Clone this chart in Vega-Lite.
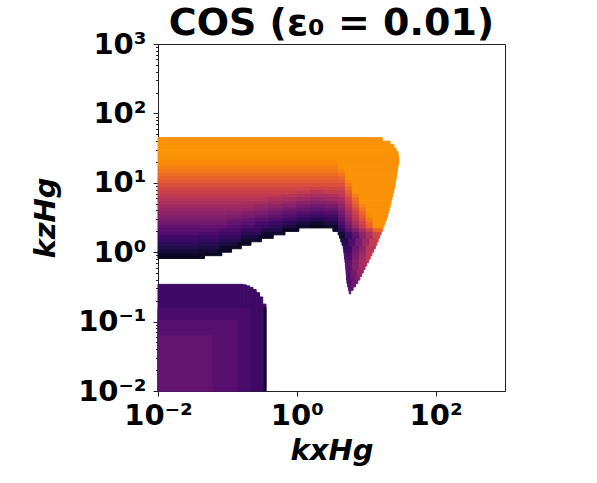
{
"$schema":"https://vega.github.io/schema/vega-lite/v6.json",
"autosize":"none",
"width":347,"height":347,
"padding":{"left":158,"top":44,"right":92,"bottom":92},
"background":"white",
"config":{"view":{"stroke":"#222","strokeWidth":1},"font":"DejaVu Sans"},
"title":{"text":"COS (ε₀ = 0.01)","font":"DejaVu Sans","fontSize":38,"fontWeight":"bold","color":"black","anchor":"middle","offset":4,"dy":17},
"data":{"values":[
{"kx0":0.01,"kx1":0.1687,"kz0":0.01,"kz1":0.344,"rate":0.19},
{"kx0":0.1687,"kx1":0.1879,"kz0":0.01,"kz1":0.3381,"rate":0.19},
{"kx0":0.1879,"kx1":0.2094,"kz0":0.01,"kz1":0.3273,"rate":0.19},
{"kx0":0.2094,"kx1":0.2333,"kz0":0.01,"kz1":0.3112,"rate":0.19},
{"kx0":0.2333,"kx1":0.26,"kz0":0.01,"kz1":0.2891,"rate":0.19},
{"kx0":0.26,"kx1":0.2897,"kz0":0.01,"kz1":0.2612,"rate":0.19},
{"kx0":0.2897,"kx1":0.3228,"kz0":0.01,"kz1":0.2265,"rate":0.19},
{"kx0":0.3228,"kx1":0.3597,"kz0":0.01,"kz1":0.1786,"rate":0.19},
{"kx0":0.3388,"kx1":0.3597,"kz0":0.01,"kz1":0.16,"rate":0.07},
{"kx0":0.01,"kx1":0.2138,"kz0":0.01,"kz1":0.1549,"rate":0.22},
{"kx0":0.01,"kx1":0.138,"kz0":0.01,"kz1":0.1047,"rate":0.25},
{"kx0":0.01,"kx1":0.0603,"kz0":0.01,"kz1":0.0631,"rate":0.28},
{"kx0":5.689,"kx1":5.984,"kz0":0.251,"kz1":0.282,"rate":0.26},
{"kx0":5.546,"kx1":6.471,"kz0":0.282,"kz1":0.316,"rate":0.27},
{"kx0":5.408,"kx1":6.166,"kz0":0.316,"kz1":0.355,"rate":0.25},
{"kx0":6.166,"kx1":7.015,"kz0":0.316,"kz1":0.355,"rate":0.30},
{"kx0":5.272,"kx1":6.31,"kz0":0.355,"kz1":0.398,"rate":0.25},
{"kx0":6.31,"kx1":7.586,"kz0":0.355,"kz1":0.398,"rate":0.32},
{"kx0":5.212,"kx1":6.026,"kz0":0.398,"kz1":0.447,"rate":0.24},
{"kx0":6.026,"kx1":7.079,"kz0":0.398,"kz1":0.447,"rate":0.30},
{"kx0":7.079,"kx1":8.091,"kz0":0.398,"kz1":0.447,"rate":0.36},
{"kx0":5.164,"kx1":6.026,"kz0":0.447,"kz1":0.501,"rate":0.25},
{"kx0":6.026,"kx1":7.244,"kz0":0.447,"kz1":0.501,"rate":0.32},
{"kx0":7.244,"kx1":8.57,"kz0":0.447,"kz1":0.501,"rate":0.39},
{"kx0":5.117,"kx1":6.166,"kz0":0.501,"kz1":0.562,"rate":0.26},
{"kx0":6.166,"kx1":7.413,"kz0":0.501,"kz1":0.562,"rate":0.335},
{"kx0":7.413,"kx1":9.078,"kz0":0.501,"kz1":0.562,"rate":0.41},
{"kx0":5.07,"kx1":6.31,"kz0":0.562,"kz1":0.631,"rate":0.26},
{"kx0":6.31,"kx1":7.943,"kz0":0.562,"kz1":0.631,"rate":0.36},
{"kx0":7.943,"kx1":9.616,"kz0":0.562,"kz1":0.631,"rate":0.44},
{"kx0":5.012,"kx1":6.31,"kz0":0.631,"kz1":0.708,"rate":0.27},
{"kx0":6.31,"kx1":7.943,"kz0":0.631,"kz1":0.708,"rate":0.36},
{"kx0":7.943,"kx1":10.19,"kz0":0.631,"kz1":0.708,"rate":0.46},
{"kx0":4.943,"kx1":6.31,"kz0":0.708,"kz1":0.794,"rate":0.26},
{"kx0":6.31,"kx1":7.943,"kz0":0.708,"kz1":0.794,"rate":0.36},
{"kx0":7.943,"kx1":10,"kz0":0.708,"kz1":0.794,"rate":0.45},
{"kx0":10,"kx1":10.79,"kz0":0.708,"kz1":0.794,"rate":0.51},
{"kx0":4.875,"kx1":6.31,"kz0":0.794,"kz1":0.891,"rate":0.24},
{"kx0":6.31,"kx1":7.943,"kz0":0.794,"kz1":0.891,"rate":0.34},
{"kx0":7.943,"kx1":10,"kz0":0.794,"kz1":0.891,"rate":0.44},
{"kx0":10,"kx1":11.43,"kz0":0.794,"kz1":0.891,"rate":0.52},
{"kx0":0.01,"kx1":0.0468,"kz0":0.813,"kz1":0.891,"rate":0.05},
{"kx0":0.01,"kx1":0.0501,"kz0":0.891,"kz1":1,"rate":0.07},
{"kx0":0.0501,"kx1":0.0832,"kz0":0.891,"kz1":1,"rate":0.06},
{"kx0":4.808,"kx1":6.31,"kz0":0.891,"kz1":1,"rate":0.23},
{"kx0":6.31,"kx1":7.943,"kz0":0.891,"kz1":1,"rate":0.33},
{"kx0":7.943,"kx1":10,"kz0":0.891,"kz1":1,"rate":0.42},
{"kx0":10,"kx1":12.11,"kz0":0.891,"kz1":1,"rate":0.51},
{"kx0":0.01,"kx1":0.0398,"kz0":1,"kz1":1.122,"rate":0.10},
{"kx0":0.0398,"kx1":0.0708,"kz0":1,"kz1":1.122,"rate":0.09},
{"kx0":0.0708,"kx1":0.1148,"kz0":1,"kz1":1.122,"rate":0.06},
{"kx0":4.742,"kx1":6.31,"kz0":1,"kz1":1.122,"rate":0.20},
{"kx0":6.31,"kx1":7.943,"kz0":1,"kz1":1.122,"rate":0.31},
{"kx0":7.943,"kx1":10,"kz0":1,"kz1":1.122,"rate":0.40},
{"kx0":10,"kx1":12.82,"kz0":1,"kz1":1.122,"rate":0.50},
{"kx0":0.01,"kx1":0.0398,"kz0":1.122,"kz1":1.259,"rate":0.13},
{"kx0":0.0398,"kx1":0.0794,"kz0":1.122,"kz1":1.259,"rate":0.115},
{"kx0":0.0794,"kx1":0.1585,"kz0":1.122,"kz1":1.259,"rate":0.074},
{"kx0":4.656,"kx1":6.31,"kz0":1.122,"kz1":1.259,"rate":0.18},
{"kx0":6.31,"kx1":7.943,"kz0":1.122,"kz1":1.259,"rate":0.29},
{"kx0":7.943,"kx1":10,"kz0":1.122,"kz1":1.259,"rate":0.38},
{"kx0":10,"kx1":13.55,"kz0":1.122,"kz1":1.259,"rate":0.50},
{"kx0":0.01,"kx1":0.0398,"kz0":1.259,"kz1":1.413,"rate":0.15},
{"kx0":0.0398,"kx1":0.0794,"kz0":1.259,"kz1":1.413,"rate":0.14},
{"kx0":0.0794,"kx1":0.1413,"kz0":1.259,"kz1":1.413,"rate":0.11},
{"kx0":0.1413,"kx1":0.2188,"kz0":1.259,"kz1":1.413,"rate":0.064},
{"kx0":4.477,"kx1":5.623,"kz0":1.259,"kz1":1.413,"rate":0.14},
{"kx0":5.623,"kx1":7.079,"kz0":1.259,"kz1":1.413,"rate":0.24},
{"kx0":7.079,"kx1":8.913,"kz0":1.259,"kz1":1.413,"rate":0.33},
{"kx0":8.913,"kx1":11.22,"kz0":1.259,"kz1":1.413,"rate":0.43},
{"kx0":11.22,"kx1":14.22,"kz0":1.259,"kz1":1.413,"rate":0.52},
{"kx0":0.01,"kx1":0.0398,"kz0":1.413,"kz1":1.585,"rate":0.18},
{"kx0":0.0398,"kx1":0.0794,"kz0":1.413,"kz1":1.585,"rate":0.17},
{"kx0":0.0794,"kx1":0.1585,"kz0":1.413,"kz1":1.585,"rate":0.136},
{"kx0":0.1585,"kx1":0.309,"kz0":1.413,"kz1":1.585,"rate":0.075},
{"kx0":4.295,"kx1":5.623,"kz0":1.413,"kz1":1.585,"rate":0.13},
{"kx0":5.623,"kx1":7.079,"kz0":1.413,"kz1":1.585,"rate":0.23},
{"kx0":7.079,"kx1":8.913,"kz0":1.413,"kz1":1.585,"rate":0.33},
{"kx0":8.913,"kx1":11.22,"kz0":1.413,"kz1":1.585,"rate":0.42},
{"kx0":11.22,"kx1":14.89,"kz0":1.413,"kz1":1.585,"rate":0.53},
{"kx0":0.01,"kx1":0.0398,"kz0":1.585,"kz1":1.778,"rate":0.20},
{"kx0":0.0398,"kx1":0.0794,"kz0":1.585,"kz1":1.778,"rate":0.195},
{"kx0":0.0794,"kx1":0.1585,"kz0":1.585,"kz1":1.778,"rate":0.166},
{"kx0":0.1585,"kx1":0.2818,"kz0":1.585,"kz1":1.778,"rate":0.114},
{"kx0":0.2818,"kx1":0.4571,"kz0":1.585,"kz1":1.778,"rate":0.067},
{"kx0":4.13,"kx1":5.012,"kz0":1.585,"kz1":1.778,"rate":0.09},
{"kx0":5.012,"kx1":6.31,"kz0":1.585,"kz1":1.778,"rate":0.18},
{"kx0":6.31,"kx1":7.943,"kz0":1.585,"kz1":1.778,"rate":0.27},
{"kx0":7.943,"kx1":10,"kz0":1.585,"kz1":1.778,"rate":0.37},
{"kx0":10,"kx1":12.59,"kz0":1.585,"kz1":1.778,"rate":0.46},
{"kx0":12.59,"kx1":15.63,"kz0":1.585,"kz1":1.778,"rate":0.56},
{"kx0":0.01,"kx1":0.0398,"kz0":1.778,"kz1":1.995,"rate":0.23},
{"kx0":0.0398,"kx1":0.0794,"kz0":1.778,"kz1":1.995,"rate":0.22},
{"kx0":0.0794,"kx1":0.1585,"kz0":1.778,"kz1":1.995,"rate":0.197},
{"kx0":0.1585,"kx1":0.3162,"kz0":1.778,"kz1":1.995,"rate":0.145},
{"kx0":0.3162,"kx1":0.6761,"kz0":1.778,"kz1":1.995,"rate":0.08},
{"kx0":3.936,"kx1":5.012,"kz0":1.778,"kz1":1.995,"rate":0.09},
{"kx0":5.012,"kx1":6.31,"kz0":1.778,"kz1":1.995,"rate":0.19},
{"kx0":6.31,"kx1":7.943,"kz0":1.778,"kz1":1.995,"rate":0.28},
{"kx0":7.943,"kx1":10,"kz0":1.778,"kz1":1.995,"rate":0.38},
{"kx0":10,"kx1":12.59,"kz0":1.778,"kz1":1.995,"rate":0.47},
{"kx0":12.59,"kx1":16.41,"kz0":1.778,"kz1":1.995,"rate":0.57},
{"kx0":0.01,"kx1":0.0398,"kz0":1.995,"kz1":2.239,"rate":0.26},
{"kx0":0.0398,"kx1":0.0794,"kz0":1.995,"kz1":2.239,"rate":0.25},
{"kx0":0.0794,"kx1":0.1585,"kz0":1.995,"kz1":2.239,"rate":0.228},
{"kx0":0.1585,"kx1":0.3162,"kz0":1.995,"kz1":2.239,"rate":0.18},
{"kx0":0.3162,"kx1":0.631,"kz0":1.995,"kz1":2.239,"rate":0.123},
{"kx0":0.631,"kx1":1.072,"kz0":1.995,"kz1":2.239,"rate":0.062},
{"kx0":3.311,"kx1":3.981,"kz0":1.995,"kz1":2.239,"rate":0.08},
{"kx0":3.981,"kx1":5.012,"kz0":1.995,"kz1":2.239,"rate":0.16},
{"kx0":5.012,"kx1":6.31,"kz0":1.995,"kz1":2.239,"rate":0.26},
{"kx0":6.31,"kx1":7.943,"kz0":1.995,"kz1":2.239,"rate":0.35},
{"kx0":7.943,"kx1":10,"kz0":1.995,"kz1":2.239,"rate":0.45},
{"kx0":10,"kx1":12.59,"kz0":1.995,"kz1":2.239,"rate":0.54},
{"kx0":12.59,"kx1":17.22,"kz0":1.995,"kz1":2.239,"rate":0.66},
{"kx0":0.01,"kx1":0.1,"kz0":2.239,"kz1":2.512,"rate":0.28},
{"kx0":0.1,"kx1":0.1585,"kz0":2.239,"kz1":2.512,"rate":0.25},
{"kx0":0.1585,"kx1":0.2512,"kz0":2.239,"kz1":2.512,"rate":0.22},
{"kx0":0.2512,"kx1":0.3981,"kz0":2.239,"kz1":2.512,"rate":0.19},
{"kx0":0.3981,"kx1":0.631,"kz0":2.239,"kz1":2.512,"rate":0.15},
{"kx0":0.631,"kx1":1,"kz0":2.239,"kz1":2.512,"rate":0.11},
{"kx0":1,"kx1":1.585,"kz0":2.239,"kz1":2.512,"rate":0.07},
{"kx0":1.585,"kx1":2.512,"kz0":2.239,"kz1":2.512,"rate":0.05},
{"kx0":2.512,"kx1":3.981,"kz0":2.239,"kz1":2.512,"rate":0.07},
{"kx0":3.981,"kx1":5.012,"kz0":2.239,"kz1":2.512,"rate":0.20},
{"kx0":5.012,"kx1":6.31,"kz0":2.239,"kz1":2.512,"rate":0.31},
{"kx0":6.31,"kx1":7.943,"kz0":2.239,"kz1":2.512,"rate":0.42},
{"kx0":7.943,"kx1":10,"kz0":2.239,"kz1":2.512,"rate":0.53},
{"kx0":10,"kx1":12.59,"kz0":2.239,"kz1":2.512,"rate":0.64},
{"kx0":12.59,"kx1":15.85,"kz0":2.239,"kz1":2.512,"rate":0.75},
{"kx0":15.85,"kx1":17.99,"kz0":2.239,"kz1":2.512,"rate":0.76},
{"kx0":0.01,"kx1":0.1,"kz0":2.512,"kz1":2.818,"rate":0.31},
{"kx0":0.1,"kx1":0.1585,"kz0":2.512,"kz1":2.818,"rate":0.28},
{"kx0":0.1585,"kx1":0.2512,"kz0":2.512,"kz1":2.818,"rate":0.26},
{"kx0":0.2512,"kx1":0.3981,"kz0":2.512,"kz1":2.818,"rate":0.22},
{"kx0":0.3981,"kx1":0.631,"kz0":2.512,"kz1":2.818,"rate":0.19},
{"kx0":0.631,"kx1":1,"kz0":2.512,"kz1":2.818,"rate":0.15},
{"kx0":1,"kx1":1.585,"kz0":2.512,"kz1":2.818,"rate":0.11},
{"kx0":1.585,"kx1":2.512,"kz0":2.512,"kz1":2.818,"rate":0.09},
{"kx0":2.512,"kx1":3.981,"kz0":2.512,"kz1":2.818,"rate":0.12},
{"kx0":3.981,"kx1":5.012,"kz0":2.512,"kz1":2.818,"rate":0.23},
{"kx0":5.012,"kx1":6.31,"kz0":2.512,"kz1":2.818,"rate":0.34},
{"kx0":6.31,"kx1":7.943,"kz0":2.512,"kz1":2.818,"rate":0.45},
{"kx0":7.943,"kx1":10,"kz0":2.512,"kz1":2.818,"rate":0.56},
{"kx0":10,"kx1":12.59,"kz0":2.512,"kz1":2.818,"rate":0.67},
{"kx0":12.59,"kx1":18.75,"kz0":2.512,"kz1":2.818,"rate":0.76},
{"kx0":0.01,"kx1":0.1,"kz0":2.818,"kz1":3.162,"rate":0.33},
{"kx0":0.1,"kx1":0.1585,"kz0":2.818,"kz1":3.162,"rate":0.31},
{"kx0":0.1585,"kx1":0.2512,"kz0":2.818,"kz1":3.162,"rate":0.29},
{"kx0":0.2512,"kx1":0.3981,"kz0":2.818,"kz1":3.162,"rate":0.26},
{"kx0":0.3981,"kx1":0.631,"kz0":2.818,"kz1":3.162,"rate":0.23},
{"kx0":0.631,"kx1":1,"kz0":2.818,"kz1":3.162,"rate":0.20},
{"kx0":1,"kx1":1.585,"kz0":2.818,"kz1":3.162,"rate":0.16},
{"kx0":1.585,"kx1":2.512,"kz0":2.818,"kz1":3.162,"rate":0.14},
{"kx0":2.512,"kx1":3.981,"kz0":2.818,"kz1":3.162,"rate":0.16},
{"kx0":3.981,"kx1":5.012,"kz0":2.818,"kz1":3.162,"rate":0.27},
{"kx0":5.012,"kx1":6.31,"kz0":2.818,"kz1":3.162,"rate":0.38},
{"kx0":6.31,"kx1":7.943,"kz0":2.818,"kz1":3.162,"rate":0.49},
{"kx0":7.943,"kx1":10,"kz0":2.818,"kz1":3.162,"rate":0.60},
{"kx0":10,"kx1":12.59,"kz0":2.818,"kz1":3.162,"rate":0.71},
{"kx0":12.59,"kx1":19.54,"kz0":2.818,"kz1":3.162,"rate":0.76},
{"kx0":0.01,"kx1":0.1,"kz0":3.162,"kz1":3.548,"rate":0.36},
{"kx0":0.1,"kx1":0.1585,"kz0":3.162,"kz1":3.548,"rate":0.35},
{"kx0":0.1585,"kx1":0.2512,"kz0":3.162,"kz1":3.548,"rate":0.33},
{"kx0":0.2512,"kx1":0.3981,"kz0":3.162,"kz1":3.548,"rate":0.30},
{"kx0":0.3981,"kx1":0.631,"kz0":3.162,"kz1":3.548,"rate":0.27},
{"kx0":0.631,"kx1":1,"kz0":3.162,"kz1":3.548,"rate":0.24},
{"kx0":1,"kx1":1.585,"kz0":3.162,"kz1":3.548,"rate":0.20},
{"kx0":1.585,"kx1":2.512,"kz0":3.162,"kz1":3.548,"rate":0.18},
{"kx0":2.512,"kx1":3.981,"kz0":3.162,"kz1":3.548,"rate":0.20},
{"kx0":3.981,"kx1":5.012,"kz0":3.162,"kz1":3.548,"rate":0.30},
{"kx0":5.012,"kx1":6.31,"kz0":3.162,"kz1":3.548,"rate":0.41},
{"kx0":6.31,"kx1":7.943,"kz0":3.162,"kz1":3.548,"rate":0.52},
{"kx0":7.943,"kx1":10,"kz0":3.162,"kz1":3.548,"rate":0.63},
{"kx0":10,"kx1":12.59,"kz0":3.162,"kz1":3.548,"rate":0.74},
{"kx0":12.59,"kx1":20.28,"kz0":3.162,"kz1":3.548,"rate":0.76},
{"kx0":0.01,"kx1":0.1,"kz0":3.548,"kz1":3.981,"rate":0.39},
{"kx0":0.1,"kx1":0.1585,"kz0":3.548,"kz1":3.981,"rate":0.38},
{"kx0":0.1585,"kx1":0.2512,"kz0":3.548,"kz1":3.981,"rate":0.36},
{"kx0":0.2512,"kx1":0.3981,"kz0":3.548,"kz1":3.981,"rate":0.34},
{"kx0":0.3981,"kx1":0.631,"kz0":3.548,"kz1":3.981,"rate":0.31},
{"kx0":0.631,"kx1":1,"kz0":3.548,"kz1":3.981,"rate":0.28},
{"kx0":1,"kx1":1.585,"kz0":3.548,"kz1":3.981,"rate":0.25},
{"kx0":1.585,"kx1":2.512,"kz0":3.548,"kz1":3.981,"rate":0.23},
{"kx0":2.512,"kx1":3.981,"kz0":3.548,"kz1":3.981,"rate":0.25},
{"kx0":3.981,"kx1":5.012,"kz0":3.548,"kz1":3.981,"rate":0.33},
{"kx0":5.012,"kx1":6.31,"kz0":3.548,"kz1":3.981,"rate":0.44},
{"kx0":6.31,"kx1":7.943,"kz0":3.548,"kz1":3.981,"rate":0.55},
{"kx0":7.943,"kx1":10,"kz0":3.548,"kz1":3.981,"rate":0.66},
{"kx0":10,"kx1":20.89,"kz0":3.548,"kz1":3.981,"rate":0.76},
{"kx0":0.01,"kx1":0.1585,"kz0":3.981,"kz1":4.467,"rate":0.41},
{"kx0":0.1585,"kx1":0.2512,"kz0":3.981,"kz1":4.467,"rate":0.40},
{"kx0":0.2512,"kx1":0.3981,"kz0":3.981,"kz1":4.467,"rate":0.38},
{"kx0":0.3981,"kx1":0.631,"kz0":3.981,"kz1":4.467,"rate":0.35},
{"kx0":0.631,"kx1":1,"kz0":3.981,"kz1":4.467,"rate":0.32},
{"kx0":1,"kx1":1.585,"kz0":3.981,"kz1":4.467,"rate":0.29},
{"kx0":1.585,"kx1":2.512,"kz0":3.981,"kz1":4.467,"rate":0.27},
{"kx0":2.512,"kx1":3.981,"kz0":3.981,"kz1":4.467,"rate":0.29},
{"kx0":3.981,"kx1":5.012,"kz0":3.981,"kz1":4.467,"rate":0.36},
{"kx0":5.012,"kx1":6.31,"kz0":3.981,"kz1":4.467,"rate":0.47},
{"kx0":6.31,"kx1":7.943,"kz0":3.981,"kz1":4.467,"rate":0.58},
{"kx0":7.943,"kx1":10,"kz0":3.981,"kz1":4.467,"rate":0.69},
{"kx0":10,"kx1":21.53,"kz0":3.981,"kz1":4.467,"rate":0.76},
{"kx0":0.01,"kx1":0.1585,"kz0":4.467,"kz1":5.012,"rate":0.44},
{"kx0":0.1585,"kx1":0.2512,"kz0":4.467,"kz1":5.012,"rate":0.43},
{"kx0":0.2512,"kx1":0.3981,"kz0":4.467,"kz1":5.012,"rate":0.41},
{"kx0":0.3981,"kx1":0.631,"kz0":4.467,"kz1":5.012,"rate":0.39},
{"kx0":0.631,"kx1":1,"kz0":4.467,"kz1":5.012,"rate":0.37},
{"kx0":1,"kx1":1.585,"kz0":4.467,"kz1":5.012,"rate":0.34},
{"kx0":1.585,"kx1":2.512,"kz0":4.467,"kz1":5.012,"rate":0.32},
{"kx0":2.512,"kx1":3.981,"kz0":4.467,"kz1":5.012,"rate":0.34},
{"kx0":3.981,"kx1":5.012,"kz0":4.467,"kz1":5.012,"rate":0.40},
{"kx0":5.012,"kx1":6.31,"kz0":4.467,"kz1":5.012,"rate":0.51},
{"kx0":6.31,"kx1":7.943,"kz0":4.467,"kz1":5.012,"rate":0.62},
{"kx0":7.943,"kx1":10,"kz0":4.467,"kz1":5.012,"rate":0.73},
{"kx0":10,"kx1":22.18,"kz0":4.467,"kz1":5.012,"rate":0.76},
{"kx0":0.01,"kx1":0.2512,"kz0":5.012,"kz1":5.623,"rate":0.46},
{"kx0":0.2512,"kx1":0.3981,"kz0":5.012,"kz1":5.623,"rate":0.45},
{"kx0":0.3981,"kx1":0.631,"kz0":5.012,"kz1":5.623,"rate":0.43},
{"kx0":0.631,"kx1":1,"kz0":5.012,"kz1":5.623,"rate":0.41},
{"kx0":1,"kx1":1.585,"kz0":5.012,"kz1":5.623,"rate":0.38},
{"kx0":1.585,"kx1":2.512,"kz0":5.012,"kz1":5.623,"rate":0.37},
{"kx0":2.512,"kx1":3.981,"kz0":5.012,"kz1":5.623,"rate":0.38},
{"kx0":3.981,"kx1":5.012,"kz0":5.012,"kz1":5.623,"rate":0.43},
{"kx0":5.012,"kx1":6.31,"kz0":5.012,"kz1":5.623,"rate":0.54},
{"kx0":6.31,"kx1":7.943,"kz0":5.012,"kz1":5.623,"rate":0.65},
{"kx0":7.943,"kx1":22.8,"kz0":5.012,"kz1":5.623,"rate":0.76},
{"kx0":0.01,"kx1":0.3981,"kz0":5.623,"kz1":6.31,"rate":0.49},
{"kx0":0.3981,"kx1":0.631,"kz0":5.623,"kz1":6.31,"rate":0.47},
{"kx0":0.631,"kx1":1,"kz0":5.623,"kz1":6.31,"rate":0.45},
{"kx0":1,"kx1":1.585,"kz0":5.623,"kz1":6.31,"rate":0.43},
{"kx0":1.585,"kx1":2.512,"kz0":5.623,"kz1":6.31,"rate":0.41},
{"kx0":2.512,"kx1":3.981,"kz0":5.623,"kz1":6.31,"rate":0.43},
{"kx0":3.981,"kx1":5.012,"kz0":5.623,"kz1":6.31,"rate":0.46},
{"kx0":5.012,"kx1":6.31,"kz0":5.623,"kz1":6.31,"rate":0.57},
{"kx0":6.31,"kx1":7.943,"kz0":5.623,"kz1":6.31,"rate":0.68},
{"kx0":7.943,"kx1":23.44,"kz0":5.623,"kz1":6.31,"rate":0.76},
{"kx0":0.01,"kx1":0.3981,"kz0":6.31,"kz1":7.079,"rate":0.515},
{"kx0":0.3981,"kx1":0.631,"kz0":6.31,"kz1":7.079,"rate":0.51},
{"kx0":0.631,"kx1":1,"kz0":6.31,"kz1":7.079,"rate":0.49},
{"kx0":1,"kx1":1.585,"kz0":6.31,"kz1":7.079,"rate":0.47},
{"kx0":1.585,"kx1":2.512,"kz0":6.31,"kz1":7.079,"rate":0.46},
{"kx0":2.512,"kx1":3.981,"kz0":6.31,"kz1":7.079,"rate":0.47},
{"kx0":3.981,"kx1":5.012,"kz0":6.31,"kz1":7.079,"rate":0.50},
{"kx0":5.012,"kx1":6.31,"kz0":6.31,"kz1":7.079,"rate":0.61},
{"kx0":6.31,"kx1":7.943,"kz0":6.31,"kz1":7.079,"rate":0.72},
{"kx0":7.943,"kx1":24.1,"kz0":6.31,"kz1":7.079,"rate":0.76},
{"kx0":0.01,"kx1":1,"kz0":7.079,"kz1":7.943,"rate":0.54},
{"kx0":1,"kx1":1.585,"kz0":7.079,"kz1":7.943,"rate":0.52},
{"kx0":1.585,"kx1":2.512,"kz0":7.079,"kz1":7.943,"rate":0.50},
{"kx0":2.512,"kx1":3.981,"kz0":7.079,"kz1":7.943,"rate":0.52},
{"kx0":3.981,"kx1":5.012,"kz0":7.079,"kz1":7.943,"rate":0.53},
{"kx0":5.012,"kx1":6.31,"kz0":7.079,"kz1":7.943,"rate":0.64},
{"kx0":6.31,"kx1":24.77,"kz0":7.079,"kz1":7.943,"rate":0.76},
{"kx0":0.01,"kx1":1,"kz0":7.943,"kz1":8.913,"rate":0.57},
{"kx0":1,"kx1":1.585,"kz0":7.943,"kz1":8.913,"rate":0.56},
{"kx0":1.585,"kx1":2.512,"kz0":7.943,"kz1":8.913,"rate":0.55},
{"kx0":2.512,"kx1":5.012,"kz0":7.943,"kz1":8.913,"rate":0.56},
{"kx0":5.012,"kx1":6.31,"kz0":7.943,"kz1":8.913,"rate":0.67},
{"kx0":6.31,"kx1":25.47,"kz0":7.943,"kz1":8.913,"rate":0.76},
{"kx0":0.01,"kx1":5.012,"kz0":8.913,"kz1":10,"rate":0.595},
{"kx0":5.012,"kx1":6.31,"kz0":8.913,"kz1":10,"rate":0.71},
{"kx0":6.31,"kx1":26.06,"kz0":8.913,"kz1":10,"rate":0.76},
{"kx0":0.01,"kx1":3.981,"kz0":10,"kz1":11.22,"rate":0.62},
{"kx0":3.981,"kx1":5.012,"kz0":10,"kz1":11.22,"rate":0.63},
{"kx0":5.012,"kx1":6.31,"kz0":10,"kz1":11.22,"rate":0.74},
{"kx0":6.31,"kx1":26.55,"kz0":10,"kz1":11.22,"rate":0.76},
{"kx0":0.01,"kx1":3.981,"kz0":11.22,"kz1":12.59,"rate":0.645},
{"kx0":3.981,"kx1":5.012,"kz0":11.22,"kz1":12.59,"rate":0.66},
{"kx0":5.012,"kx1":27.1,"kz0":11.22,"kz1":12.59,"rate":0.76},
{"kx0":0.01,"kx1":3.981,"kz0":12.59,"kz1":14.13,"rate":0.67},
{"kx0":3.981,"kx1":5.012,"kz0":12.59,"kz1":14.13,"rate":0.70},
{"kx0":5.012,"kx1":27.61,"kz0":12.59,"kz1":14.13,"rate":0.76},
{"kx0":0.01,"kx1":3.981,"kz0":14.13,"kz1":15.85,"rate":0.70},
{"kx0":3.981,"kx1":5.012,"kz0":14.13,"kz1":15.85,"rate":0.73},
{"kx0":5.012,"kx1":28.12,"kz0":14.13,"kz1":15.85,"rate":0.76},
{"kx0":0.01,"kx1":3.981,"kz0":15.85,"kz1":17.78,"rate":0.72},
{"kx0":3.981,"kx1":28.58,"kz0":15.85,"kz1":17.78,"rate":0.76},
{"kx0":0.01,"kx1":3.981,"kz0":17.78,"kz1":19.95,"rate":0.74},
{"kx0":3.981,"kx1":29.11,"kz0":17.78,"kz1":19.95,"rate":0.76},
{"kx0":0.01,"kx1":29.51,"kz0":19.95,"kz1":22.39,"rate":0.755},
{"kx0":0.01,"kx1":29.17,"kz0":22.39,"kz1":25.12,"rate":0.76},
{"kx0":0.01,"kx1":28.71,"kz0":25.12,"kz1":28.18,"rate":0.765},
{"kx0":0.01,"kx1":26.92,"kz0":28.18,"kz1":31.62,"rate":0.765},
{"kx0":0.01,"kx1":25.12,"kz0":31.62,"kz1":35.48,"rate":0.765},
{"kx0":0.01,"kx1":22.13,"kz0":35.48,"kz1":39.81,"rate":0.76},
{"kx0":0.01,"kx1":16.98,"kz0":39.81,"kz1":44.67,"rate":0.755}
]},
"mark":{"type":"rect","strokeWidth":1},
"encoding":{
"x":{"field":"kx0","type":"quantitative","scale":{"type":"log","domain":[0.01,1000],"nice":false},
 "axis":{"title":"kxHg","values":[0.01,1,100],
  "labelExpr":"datum.value < 0.1 ? '10⁻²' : datum.value < 10 ? '10⁰' : '10²'",
  "labelFont":"DejaVu Sans","labelFontWeight":"bold","labelFontSize":29,"labelColor":"black","labelFlush":false,"labelOverlap":false,"labelPadding":5,
  "tickSize":5,"tickColor":"#222","domainColor":"#222","grid":false,
  "titleFont":"DejaVu Sans","titleFontSize":29,"titleFontWeight":"bold","titleFontStyle":"italic","titleColor":"black","titlePadding":6}},
"x2":{"field":"kx1"},
"y":{"field":"kz0","type":"quantitative","scale":{"type":"log","domain":[0.01,1000],"nice":false},
 "axis":{"title":"kzHg",
  "values":[0.01,0.02,0.03,0.04,0.05,0.06,0.07,0.08,0.09,0.1,0.2,0.3,0.4,0.5,0.6,0.7,0.8,0.9,1,2,3,4,5,6,7,8,9,10,20,30,40,50,60,70,80,90,100,200,300,400,500,600,700,800,900,1000],
  "labelExpr":"abs(log(datum.value)/LN10 - round(log(datum.value)/LN10)) > 0.001 ? '' : datum.value < 0.05 ? '10⁻²' : datum.value < 0.5 ? '10⁻¹' : datum.value < 5 ? '10⁰' : datum.value < 50 ? '10¹' : datum.value < 500 ? '10²' : '10³'",
  "labelFont":"DejaVu Sans","labelFontWeight":"bold","labelFontSize":29,"labelColor":"black","labelFlush":false,"labelOverlap":false,"labelPadding":7,
  "tickSize":{"condition":{"test":"abs(log(datum.value)/LN10 - round(log(datum.value)/LN10)) < 0.001","value":5},"value":2.5},
  "tickColor":"#222","domainColor":"#222","grid":false,
  "titleFont":"DejaVu Sans","titleFontSize":29,"titleFontWeight":"bold","titleFontStyle":"italic","titleColor":"black","titlePadding":17}},
"y2":{"field":"kz1"},
"color":{"field":"rate","type":"quantitative","scale":{"scheme":"inferno","domain":[0,1]},"legend":null},
"stroke":{"field":"rate","type":"quantitative","scale":{"scheme":"inferno","domain":[0,1]},"legend":null}
}
}
